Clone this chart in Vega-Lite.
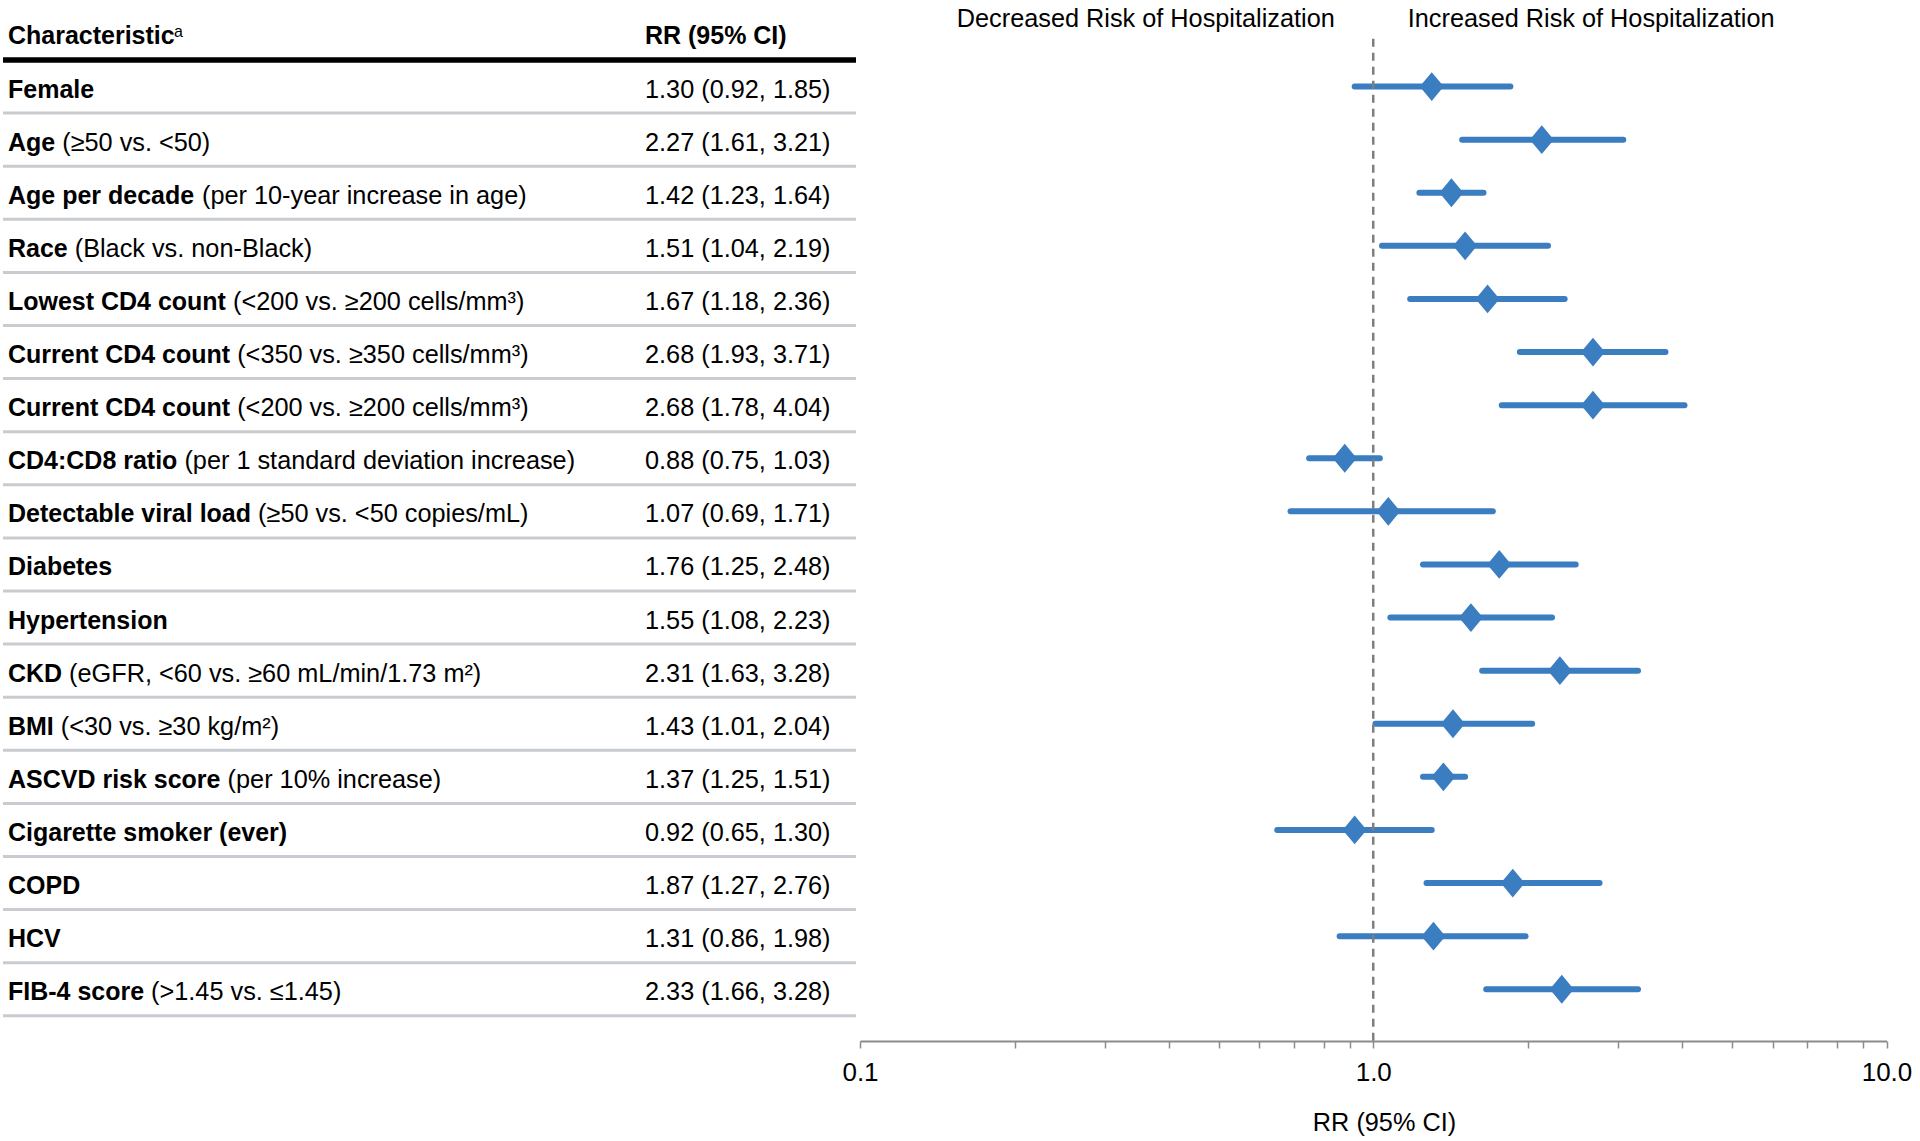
{
  "$schema": "https://vega.github.io/schema/vega-lite/v6.json",
  "background": "white",
  "padding": {"left": 0, "top": 6.9, "right": 4, "bottom": 4},
  "bounds": "flush",
  "spacing": 4,
  "config": {"view": {"stroke": null}, "font": "Liberation Sans", "text": {"font": "Liberation Sans"}},
  "datasets": {
    "rows": [
      {"key": "Female", "bold": "Female", "detail": "", "rr_text": "1.30 (0.92, 1.85)", "rr": 1.30, "lo": 0.92, "hi": 1.85},
      {"key": "Age (≥50 vs. <50)", "bold": "Age", "detail": "(≥50 vs. <50)", "rr_text": "2.27 (1.61, 3.21)", "rr": 2.13, "lo": 1.49, "hi": 3.07},
      {"key": "Age per decade (per 10-year increase in age)", "bold": "Age per decade", "detail": "(per 10-year increase in age)", "rr_text": "1.42 (1.23, 1.64)", "rr": 1.42, "lo": 1.23, "hi": 1.64},
      {"key": "Race (Black vs. non-Black)", "bold": "Race", "detail": "(Black vs. non-Black)", "rr_text": "1.51 (1.04, 2.19)", "rr": 1.51, "lo": 1.04, "hi": 2.19},
      {"key": "Lowest CD4 count (<200 vs. ≥200 cells/mm³)", "bold": "Lowest CD4 count", "detail": "(<200 vs. ≥200 cells/mm³)", "rr_text": "1.67 (1.18, 2.36)", "rr": 1.67, "lo": 1.18, "hi": 2.36},
      {"key": "Current CD4 count (<350 vs. ≥350 cells/mm³)", "bold": "Current CD4 count", "detail": "(<350 vs. ≥350 cells/mm³)", "rr_text": "2.68 (1.93, 3.71)", "rr": 2.68, "lo": 1.93, "hi": 3.71},
      {"key": "Current CD4 count (<200 vs. ≥200 cells/mm³)", "bold": "Current CD4 count", "detail": "(<200 vs. ≥200 cells/mm³)", "rr_text": "2.68 (1.78, 4.04)", "rr": 2.68, "lo": 1.78, "hi": 4.04},
      {"key": "CD4:CD8 ratio (per 1 standard deviation increase)", "bold": "CD4:CD8 ratio", "detail": "(per 1 standard deviation increase)", "rr_text": "0.88 (0.75, 1.03)", "rr": 0.88, "lo": 0.75, "hi": 1.03},
      {"key": "Detectable viral load (≥50 vs. <50 copies/mL)", "bold": "Detectable viral load", "detail": "(≥50 vs. <50 copies/mL)", "rr_text": "1.07 (0.69, 1.71)", "rr": 1.07, "lo": 0.69, "hi": 1.71},
      {"key": "Diabetes", "bold": "Diabetes", "detail": "", "rr_text": "1.76 (1.25, 2.48)", "rr": 1.76, "lo": 1.25, "hi": 2.48},
      {"key": "Hypertension", "bold": "Hypertension", "detail": "", "rr_text": "1.55 (1.08, 2.23)", "rr": 1.55, "lo": 1.08, "hi": 2.23},
      {"key": "CKD (eGFR, <60 vs. ≥60 mL/min/1.73 m²)", "bold": "CKD", "detail": "(eGFR, <60 vs. ≥60 mL/min/1.73 m²)", "rr_text": "2.31 (1.63, 3.28)", "rr": 2.31, "lo": 1.63, "hi": 3.28},
      {"key": "BMI (<30 vs. ≥30 kg/m²)", "bold": "BMI", "detail": "(<30 vs. ≥30 kg/m²)", "rr_text": "1.43 (1.01, 2.04)", "rr": 1.43, "lo": 1.01, "hi": 2.04},
      {"key": "ASCVD risk score (per 10% increase)", "bold": "ASCVD risk score", "detail": "(per 10% increase)", "rr_text": "1.37 (1.25, 1.51)", "rr": 1.37, "lo": 1.25, "hi": 1.51},
      {"key": "Cigarette smoker (ever)", "bold": "Cigarette smoker (ever)", "detail": "", "rr_text": "0.92 (0.65, 1.30)", "rr": 0.92, "lo": 0.65, "hi": 1.30},
      {"key": "COPD", "bold": "COPD", "detail": "", "rr_text": "1.87 (1.27, 2.76)", "rr": 1.87, "lo": 1.27, "hi": 2.76},
      {"key": "HCV", "bold": "HCV", "detail": "", "rr_text": "1.31 (0.86, 1.98)", "rr": 1.31, "lo": 0.86, "hi": 1.98},
      {"key": "FIB-4 score (>1.45 vs. ≤1.45)", "bold": "FIB-4 score", "detail": "(>1.45 vs. ≤1.45)", "rr_text": "2.33 (1.66, 3.28)", "rr": 2.33, "lo": 1.66, "hi": 3.28}
    ]
  },
  "hconcat": [
    {
      "width": 853,
      "height": 1008.9,
      "data": {"name": "rows"},
      "encoding": {
        "y": {"field": "key", "type": "nominal", "axis": null,
          "scale": {"domain": ["header", "Female", "Age (≥50 vs. <50)", "Age per decade (per 10-year increase in age)", "Race (Black vs. non-Black)", "Lowest CD4 count (<200 vs. ≥200 cells/mm³)", "Current CD4 count (<350 vs. ≥350 cells/mm³)", "Current CD4 count (<200 vs. ≥200 cells/mm³)", "CD4:CD8 ratio (per 1 standard deviation increase)", "Detectable viral load (≥50 vs. <50 copies/mL)", "Diabetes", "Hypertension", "CKD (eGFR, <60 vs. ≥60 mL/min/1.73 m²)", "BMI (<30 vs. ≥30 kg/m²)", "ASCVD risk score (per 10% increase)", "Cigarette smoker (ever)", "COPD", "HCV", "FIB-4 score (>1.45 vs. ≤1.45)"], "paddingInner": 0, "paddingOuter": 0}}
      },
      "layer": [
        {
          "mark": {"type": "rule", "color": "#c8ccd0", "strokeWidth": 3},
          "encoding": {"y": {"field": "key", "type": "nominal", "bandPosition": 1, "axis": null}}
        },
        {
          "data": {"values": [{}]},
          "mark": {"type": "rule", "color": "#000000", "strokeWidth": 5.5},
          "encoding": {"y": {"datum": "header", "type": "nominal", "bandPosition": 1, "axis": null}}
        },
        {
          "data": {"values": [{"col": "Characteristic", "label": "Characteristic"}, {"col": "RR (95% CI)", "label": "RR (95% CI)"}]},
          "mark": {"type": "text", "align": "left", "baseline": "middle", "fontWeight": "bold", "fontSize": 25, "dy": 3, "color": "#000000"},
          "encoding": {
            "x": {"field": "col", "type": "nominal", "axis": null, "scale": {"type": "point", "domain": ["Characteristic", "RR (95% CI)"], "range": [5, 642], "padding": 0}},
            "y": {"datum": "header", "type": "nominal", "axis": null},
            "text": {"field": "label"}
          }
        },
        {
          "data": {"values": [{"col": "Characteristic", "label": "a"}]},
          "mark": {"type": "text", "align": "left", "baseline": "middle", "fontWeight": "normal", "fontSize": 16, "dx": 166, "dy": -1, "color": "#000000"},
          "encoding": {
            "x": {"field": "col", "type": "nominal", "axis": null},
            "y": {"datum": "header", "type": "nominal", "axis": null},
            "text": {"field": "label"}
          }
        },
        {
          "mark": {"type": "text", "align": "left", "baseline": "middle", "fontWeight": "bold", "fontSize": 25, "dy": 3, "color": "#000000"},
          "encoding": {
            "x": {"datum": "Characteristic", "type": "nominal", "axis": null},
            "text": {"field": "bold"}
          }
        },
        {
          "mark": {"type": "text", "align": "left", "baseline": "middle", "fontWeight": "normal", "fontSize": 25.3, "dy": 3, "color": "#000000",
            "dx": {"expr": "datum.bold === 'Age' ? 54.2 : datum.bold === 'Age per decade' ? 194 : datum.bold === 'Race' ? 66.7 : datum.bold === 'Lowest CD4 count' ? 225.1 : datum.bold === 'Current CD4 count' ? 229.2 : datum.bold === 'CD4:CD8 ratio' ? 176.4 : datum.bold === 'Detectable viral load' ? 250.1 : datum.bold === 'CKD' ? 61.1 : datum.bold === 'BMI' ? 52.8 : datum.bold === 'ASCVD risk score' ? 219.6 : datum.bold === 'FIB-4 score' ? 143.1 : 0"}},
          "encoding": {
            "x": {"datum": "Characteristic", "type": "nominal", "axis": null},
            "text": {"field": "detail"}
          }
        },
        {
          "mark": {"type": "text", "align": "left", "baseline": "middle", "fontWeight": "normal", "fontSize": 25.3, "dy": 3, "color": "#000000"},
          "encoding": {
            "x": {"datum": "RR (95% CI)", "type": "nominal", "axis": null},
            "text": {"field": "rr_text"}
          }
        }
      ]
    },
    {
      "width": 1026.5,
      "height": 1034.1,
      "data": {"name": "rows"},
      "encoding": {
        "y": {"field": "key", "type": "nominal", "axis": null,
          "scale": {"domain": ["header", "Female", "Age (≥50 vs. <50)", "Age per decade (per 10-year increase in age)", "Race (Black vs. non-Black)", "Lowest CD4 count (<200 vs. ≥200 cells/mm³)", "Current CD4 count (<350 vs. ≥350 cells/mm³)", "Current CD4 count (<200 vs. ≥200 cells/mm³)", "CD4:CD8 ratio (per 1 standard deviation increase)", "Detectable viral load (≥50 vs. <50 copies/mL)", "Diabetes", "Hypertension", "CKD (eGFR, <60 vs. ≥60 mL/min/1.73 m²)", "BMI (<30 vs. ≥30 kg/m²)", "ASCVD risk score (per 10% increase)", "Cigarette smoker (ever)", "COPD", "HCV", "FIB-4 score (>1.45 vs. ≤1.45)"], "range": [0, 1008.9], "paddingInner": 0, "paddingOuter": 0}}
      },
      "layer": [
        {
          "mark": {"type": "rule", "color": "#3a7dc0", "strokeWidth": 6, "strokeCap": "round"},
          "encoding": {
            "x": {"field": "lo", "type": "quantitative",
              "scale": {"type": "log", "domain": [0.1, 10], "nice": false, "zero": false},
              "axis": {"title": "RR (95% CI)", "values": [0.1, 0.2, 0.3, 0.4, 0.5, 0.6, 0.7, 0.8, 0.9, 1, 2, 3, 4, 5, 6, 7, 8, 9, 10],
                "labelExpr": "datum.value == 0.1 || datum.value == 1 || datum.value == 10 ? format(datum.value, '.1f') : ''",
                "labelOverlap": false, "labelFlush": false, "labelFontSize": 26, "labelColor": "#000000", "labelFont": "Liberation Sans", "labelPadding": 11.5,
                "tickSize": 7, "tickColor": "#8c8c8c", "tickWidth": 1.5, "domainColor": "#8c8c8c", "domainWidth": 2, "grid": false,
                "titleFontSize": 25.3, "titleFontWeight": "normal", "titleColor": "#000000", "titleFont": "Liberation Sans", "titlePadding": 25, "titleX": 524}},
            "x2": {"field": "hi"}
          }
        },
        {
          "data": {"values": [{}]},
          "mark": {"type": "rule", "color": "#7f7f7f", "strokeWidth": 2.5, "strokeDash": [8, 6]},
          "encoding": {
            "x": {"datum": 1, "type": "quantitative"},
            "y": {"datum": "header", "type": "nominal", "bandPosition": 0.6, "axis": null},
            "y2": {"datum": "FIB-4 score (>1.45 vs. ≤1.45)", "bandPosition": 1.47}
          }
        },
        {
          "mark": {"type": "point", "shape": "M0,-1.2L1,0L0,1.2L-1,0Z", "filled": true, "size": 576, "color": "#3a7dc0", "opacity": 1, "strokeWidth": 0},
          "encoding": {"x": {"field": "rr", "type": "quantitative"}}
        },
        {
          "data": {"values": [{}]},
          "mark": {"type": "text", "text": "Decreased Risk of Hospitalization", "align": "right", "baseline": "middle", "fontSize": 25.3, "dx": -38.5, "dy": -14, "color": "#000000"},
          "encoding": {
            "x": {"datum": 1, "type": "quantitative"},
            "y": {"datum": "header", "type": "nominal", "axis": null}
          }
        },
        {
          "data": {"values": [{}]},
          "mark": {"type": "text", "text": "Increased Risk of Hospitalization", "align": "left", "baseline": "middle", "fontSize": 25.3, "dx": 34.5, "dy": -14, "color": "#000000"},
          "encoding": {
            "x": {"datum": 1, "type": "quantitative"},
            "y": {"datum": "header", "type": "nominal", "axis": null}
          }
        }
      ]
    }
  ]
}
